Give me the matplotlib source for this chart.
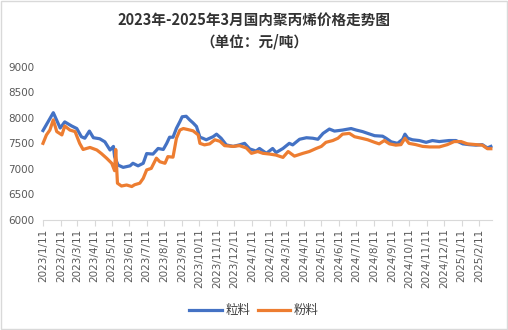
import matplotlib
matplotlib.use("Agg")
import matplotlib.pyplot as plt
import pandas as pd
from matplotlib.patches import Rectangle

plt.rcParams['font.family'] = ['Noto Sans CJK SC', 'DejaVu Sans']

title = "2023年-2025年3月国内聚丙烯价格走势图\n（单位：元/吨）"
series_names = ["粒料", "粉料"]

granule_dates = [
    "2023-01-11", "2023-01-29", "2023-02-10", "2023-02-18", "2023-03-02", "2023-03-11",
    "2023-03-19", "2023-03-25", "2023-04-02", "2023-04-09", "2023-04-20", "2023-04-29",
    "2023-05-08", "2023-05-14", "2023-05-16", "2023-05-22", "2023-05-31", "2023-06-12",
    "2023-06-17", "2023-06-26", "2023-07-05", "2023-07-11", "2023-07-22", "2023-07-31",
    "2023-08-09", "2023-08-15", "2023-08-20", "2023-08-26", "2023-09-01", "2023-09-07",
    "2023-09-11", "2023-09-18", "2023-09-24", "2023-09-30", "2023-10-06", "2023-10-12",
    "2023-10-17", "2023-10-23", "2023-11-04", "2023-11-10", "2023-11-18", "2023-11-27",
    "2023-12-09", "2023-12-20", "2023-12-29", "2024-01-07", "2024-01-18", "2024-01-24",
    "2024-02-05", "2024-02-16", "2024-02-22", "2024-03-05", "2024-03-16", "2024-03-22",
    "2024-04-03", "2024-04-15", "2024-04-26", "2024-05-05", "2024-05-14", "2024-05-25",
    "2024-06-03", "2024-06-17", "2024-07-02", "2024-07-11", "2024-07-22", "2024-07-31",
    "2024-08-12", "2024-08-26", "2024-09-01", "2024-09-10", "2024-09-21", "2024-09-30",
    "2024-10-04", "2024-10-09", "2024-10-17", "2024-10-29", "2024-11-10", "2024-11-21",
    "2024-12-03", "2024-12-20", "2025-01-01", "2025-01-13", "2025-01-24", "2025-02-05",
    "2025-02-16", "2025-02-25", "2025-03-03",
]
granule_values = [
    7750, 8100, 7800, 7920, 7840, 7790,
    7630, 7600, 7740, 7610, 7590, 7530,
    7370, 7440, 7240, 7075, 7030, 7060,
    7110, 7060, 7110, 7300, 7290, 7400,
    7380, 7500, 7620, 7620, 7795, 7925,
    8020, 8030, 7960, 7900, 7830, 7620,
    7600, 7570, 7630, 7680, 7600, 7470,
    7440, 7470, 7500, 7390, 7350, 7400,
    7305, 7400, 7320, 7400, 7500, 7470,
    7580, 7610, 7600, 7580, 7695, 7780,
    7740, 7760, 7790, 7760, 7730, 7695,
    7650, 7640, 7600, 7530, 7500, 7580,
    7680, 7600, 7570, 7555, 7520, 7555,
    7535, 7555, 7555, 7490, 7475, 7465,
    7475, 7410, 7440,
]

powder_dates = [
    "2023-01-11", "2023-01-17", "2023-01-23", "2023-01-29", "2023-02-04", "2023-02-13",
    "2023-02-18", "2023-02-27", "2023-03-08", "2023-03-16", "2023-03-22", "2023-04-03",
    "2023-04-15", "2023-04-23", "2023-05-02", "2023-05-11", "2023-05-16", "2023-05-18",
    "2023-05-21", "2023-05-28", "2023-06-06", "2023-06-15", "2023-06-20", "2023-06-29",
    "2023-07-05", "2023-07-11", "2023-07-19", "2023-07-28", "2023-08-03", "2023-08-12",
    "2023-08-17", "2023-08-26", "2023-09-01", "2023-09-07", "2023-09-13", "2023-09-21",
    "2023-09-30", "2023-10-09", "2023-10-12", "2023-10-20", "2023-10-29", "2023-11-07",
    "2023-11-16", "2023-11-24", "2023-12-09", "2023-12-20", "2024-01-01", "2024-01-10",
    "2024-01-21", "2024-01-30", "2024-02-11", "2024-02-22", "2024-03-05", "2024-03-14",
    "2024-03-25", "2024-04-09", "2024-04-20", "2024-05-02", "2024-05-11", "2024-05-19",
    "2024-05-31", "2024-06-09", "2024-06-17", "2024-06-29", "2024-07-08", "2024-07-20",
    "2024-07-31", "2024-08-12", "2024-08-20", "2024-08-29", "2024-09-07", "2024-09-18",
    "2024-09-27", "2024-10-04", "2024-10-11", "2024-10-23", "2024-11-04", "2024-11-16",
    "2024-12-03", "2024-12-17", "2024-12-29", "2025-01-10", "2025-01-21", "2025-02-05",
    "2025-02-16", "2025-02-25", "2025-03-03",
]
powder_values = [
    7500, 7665, 7760, 7960, 7730, 7665,
    7840, 7760, 7730, 7500, 7380, 7420,
    7370, 7300, 7210, 7110, 6965, 7380,
    6720, 6665, 6685, 6655, 6690, 6720,
    6815, 6980, 7010, 7210, 7140, 7110,
    7240, 7230, 7600, 7760, 7790, 7770,
    7745, 7665, 7500, 7470, 7490, 7570,
    7540, 7455, 7440, 7455, 7410, 7305,
    7340, 7305, 7290, 7270, 7225, 7340,
    7250, 7305, 7340, 7400, 7440, 7520,
    7555, 7600, 7680, 7695, 7630, 7600,
    7570, 7520, 7490, 7555, 7490, 7465,
    7475, 7600, 7500, 7475, 7440, 7430,
    7430, 7475, 7535, 7535, 7490, 7475,
    7465, 7395, 7395,
]

tick_dates = pd.date_range("2023-01-01", "2025-02-01", freq="MS") + pd.Timedelta(days=10)
tick_labels = [f"{d.year}/{d.month}/{d.day}" for d in tick_dates]
y_ticks = [6000, 6500, 7000, 7500, 8000, 8500, 9000]

fig = plt.figure(figsize=(5.08, 3.30), dpi=100)
fig.patches.append(Rectangle((0.002, 0.003), 0.996, 0.994, transform=fig.transFigure,
                             fill=False, edgecolor="#d9d9d9", linewidth=1.0))
ax = fig.add_axes([43/508, 1-220/330, (492-43)/508, (220-66.7)/330])

ax.plot(pd.to_datetime(granule_dates), granule_values, color="#4472C4", lw=2.3,
        label=series_names[0], solid_joinstyle="round", clip_on=False)
ax.plot(pd.to_datetime(powder_dates), powder_values, color="#ED7D31", lw=2.3,
        label=series_names[1], solid_joinstyle="round", clip_on=False)

ax.set_ylim(6000, 9000)
ax.set_yticks(y_ticks)
ax.set_xlim(pd.Timestamp("2023-01-11"), pd.Timestamp("2025-03-05"))
ax.set_xticks(tick_dates)
ax.set_xticklabels(tick_labels, rotation=90, fontsize=7.5, color="#595959",
                   family=["DejaVu Sans"])
for lab in ax.get_yticklabels():
    lab.set_family(["DejaVu Sans"])
ax.tick_params(axis="y", length=0, labelsize=7.5, labelcolor="#595959", pad=6)
ax.tick_params(axis="x", length=4, color="#d9d9d9", direction="out", pad=2)
for s in ["top", "right", "left"]:
    ax.spines[s].set_visible(False)
ax.spines["bottom"].set_color("#d9d9d9")

fig.suptitle(title, x=0.5, y=0.965, fontsize=10.5, fontweight="bold", color="#333333",
             linespacing=1.45)

fig.legend(loc="center", bbox_to_anchor=(0.5, 0.058), ncol=2, frameon=False,
           fontsize=9, handlelength=2.6, columnspacing=0.6, handletextpad=0.3,
           labelcolor="#404040")

fig.savefig("out.png", dpi=100)
